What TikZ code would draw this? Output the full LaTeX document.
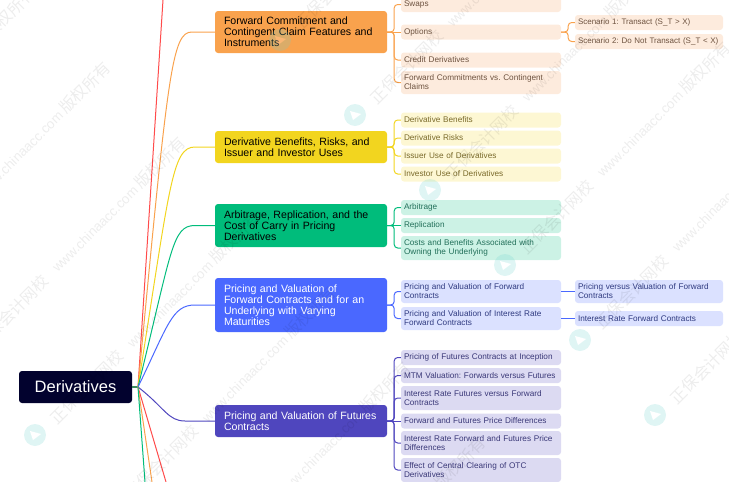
\documentclass[tikz,border=0pt]{standalone}
\usepackage{fontspec}
\setmainfont{Liberation Sans}
\newfontfamily\wmfont{Noto Sans CJK SC}
\usetikzlibrary{positioning}
\definecolor{rootc}{HTML}{02022E}
\definecolor{redc}{HTML}{FF4B4B}
\definecolor{stubc}{HTML}{3F8F5F}
\definecolor{orangec}{HTML}{F9A24D}
\definecolor{yellowc}{HTML}{F2D51F}
\definecolor{greenc}{HTML}{00BC7B}
\definecolor{bluec}{HTML}{4A68FF}
\definecolor{purplec}{HTML}{4F46BE}
\definecolor{orangel}{HTML}{FDEBDD}
\definecolor{yellowl}{HTML}{FDF7D3}
\definecolor{greenl}{HTML}{CCF2E5}
\definecolor{bluel}{HTML}{DBE1FF}
\definecolor{purplel}{HTML}{DCDAF2}
\definecolor{oranget}{HTML}{6E5340}
\definecolor{yellowt}{HTML}{7A6A2A}
\definecolor{greent}{HTML}{22705A}
\definecolor{bluet}{HTML}{2F3A80}
\definecolor{purplet}{HTML}{3A3878}
\definecolor{logoc}{HTML}{6FD3CF}
\frenchspacing

\begin{document}
\begin{tikzpicture}[x=1pt, y=-1pt,
		topicbox/.style={rounded corners=3pt, inner xsep=9pt, inner ysep=0pt, text width=154pt, minimum width=172pt, align=left, font=\fontsize{10.6}{11}\selectfont},
		subbox/.style={rounded corners=3pt, inner xsep=3pt, inner ysep=0pt, text width=154pt, minimum width=160pt, align=left, font=\fontsize{8.2}{9}\selectfont},
		leafbox/.style={subbox, text width=142pt, minimum width=148pt},
		mainline/.style={line width=1pt},
		branch/.style={line width=1pt, rounded corners=3.5pt},
		wmtext/.style={text=black, opacity=0.07, rotate=45, inner sep=0pt}]
	\useasboundingbox (0,0) rectangle (729,482);
	\node[fill=rootc, rounded corners=3pt, minimum width=113pt, minimum height=32pt, inner sep=0pt, text=white, font=\fontsize{16.5}{18}\selectfont] (root) at (75.5,387) {Derivatives};
	\coordinate (hub) at (138,387);
	\coordinate (topend) at (163,0);
	\coordinate (downred) at (166,482);
	\coordinate (downorange) at (152,482);
	\coordinate (downgreen) at (145,482);

	\node[topicbox, fill=orangec, minimum height=42pt] (features) at (301,32) {Forward Commitment and\\Contingent Claim Features and\\Instruments};
	\node[topicbox, fill=yellowc, minimum height=32pt] (uses) at (301,147) {Derivative Benefits, Risks, and\\Issuer and Investor Uses};
	\node[topicbox, fill=greenc, minimum height=43pt] (carry) at (301,225.5) {Arbitrage, Replication, and the\\Cost of Carry in Pricing\\Derivatives};
	\node[topicbox, fill=bluec, text=white, minimum height=54pt] (forwards) at (301,305) {Pricing and Valuation of\\Forward Contracts and for an\\Underlying with Varying\\Maturities};
	\node[topicbox, fill=purplec, text=white, minimum height=32pt] (futures) at (301,421) {Pricing and Valuation of Futures\\Contracts};

	\node[subbox, fill=orangel, text=oranget, minimum height=15pt] (swaps) at (481,4.5) {Swaps};
	\node[subbox, fill=orangel, text=oranget, minimum height=15pt] (options) at (481,32) {Options};
	\node[subbox, fill=orangel, text=oranget, minimum height=15pt] (credit) at (481,60) {Credit Derivatives};
	\node[subbox, fill=orangel, text=oranget, minimum height=23pt] (versus) at (481,82.5) {Forward Commitments vs. Contingent\\Claims};
	\node[leafbox, fill=orangel, text=oranget, minimum height=15pt, font=\fontsize{8}{9}\selectfont] (transact) at (649,22.5) {Scenario 1: Transact (S\_T > X)};
	\node[leafbox, fill=orangel, text=oranget, minimum height=15pt, font=\fontsize{8}{9}\selectfont] (notransact) at (649,41.5) {\mbox{Scenario 2: Do Not Transact (S\_T < X)}};

	\node[subbox, fill=yellowl, text=yellowt, minimum height=15pt] (benefits) at (481,120) {Derivative Benefits};
	\node[subbox, fill=yellowl, text=yellowt, minimum height=15pt] (risks) at (481,138) {Derivative Risks};
	\node[subbox, fill=yellowl, text=yellowt, minimum height=15pt] (issuer) at (481,156) {Issuer Use of Derivatives};
	\node[subbox, fill=yellowl, text=yellowt, minimum height=15pt] (investor) at (481,174) {Investor Use of Derivatives};

	\node[subbox, fill=greenl, text=greent, minimum height=15pt] (arbitrage) at (481,207.5) {Arbitrage};
	\node[subbox, fill=greenl, text=greent, minimum height=15pt] (replication) at (481,225.5) {Replication};
	\node[subbox, fill=greenl, text=greent, minimum height=24pt] (costs) at (481,248) {Costs and Benefits Associated with\\Owning the Underlying};

	\node[subbox, fill=bluel, text=bluet, minimum height=23pt] (forwardval) at (481,291.5) {Pricing and Valuation of Forward\\Contracts};
	\node[subbox, fill=bluel, text=bluet, minimum height=23pt] (rateval) at (481,318.5) {Pricing and Valuation of Interest Rate\\Forward Contracts};
	\node[leafbox, fill=bluel, text=bluet, minimum height=23pt] (priceversus) at (649,291.5) {Pricing versus Valuation of Forward\\Contracts};
	\node[leafbox, fill=bluel, text=bluet, minimum height=15pt] (ratefra) at (649,318.5) {Interest Rate Forward Contracts};

	\node[subbox, fill=purplel, text=purplet, minimum height=15pt] (inception) at (481,357.5) {Pricing of Futures Contracts at Inception};
	\node[subbox, fill=purplel, text=purplet, minimum height=15pt] (mtm) at (481,375.5) {MTM Valuation: Forwards versus Futures};
	\node[subbox, fill=purplel, text=purplet, minimum height=24pt] (ratefutures) at (481,398) {Interest Rate Futures versus Forward\\Contracts};
	\node[subbox, fill=purplel, text=purplet, minimum height=15pt] (pricediff) at (481,421) {Forward and Futures Price Differences};
	\node[subbox, fill=purplel, text=purplet, minimum height=24pt] (ratediff) at (481,443) {Interest Rate Forward and Futures Price\\Differences};
	\node[subbox, fill=purplel, text=purplet, minimum height=24pt] (clearing) at (481,470) {Effect of Central Clearing of OTC\\Derivatives};

	\draw[stubc, line width=1.6pt] (root) -- (hub);
	\draw[mainline, redc] (hub) -- (topend);
	\draw[mainline, orangec] (hub) .. controls (168,70) and (172,32) .. (192,32) -- (features);
	\draw[mainline, yellowc] (hub) .. controls (170,185) and (172,147) .. (195,147) -- (uses);
	\draw[mainline, greenc] (hub) .. controls (172,250) and (172,225.5) .. (195,225.5) -- (carry);
	\draw[mainline, bluec] (hub) .. controls (168,325) and (172,305) .. (195,305) -- (forwards);
	\draw[mainline, purplec] (hub) .. controls (165,408) and (168,421) .. (185,421) -- (futures);
	\draw[mainline, redc] (hub) -- (downred);
	\draw[mainline, orangec] (hub) -- (downorange);
	\draw[mainline, greenc] (hub) -- (downgreen);

	\draw[branch, orangec] (features.east) -- ++(7,0) |- (swaps.west);
	\draw[branch, orangec] (features.east) -- (options.west);
	\draw[branch, orangec] (features.east) -- ++(7,0) |- (credit.west);
	\draw[branch, orangec] (features.east) -- ++(7,0) |- (versus.west);
	\draw[branch, orangec] (options.east) -- ++(7,0) |- (transact.west);
	\draw[branch, orangec] (options.east) -- ++(7,0) |- (notransact.west);

	\draw[branch, yellowc] (uses.east) -- ++(7,0) |- (benefits.west);
	\draw[branch, yellowc] (uses.east) -- ++(7,0) |- (risks.west);
	\draw[branch, yellowc] (uses.east) -- ++(7,0) |- (issuer.west);
	\draw[branch, yellowc] (uses.east) -- ++(7,0) |- (investor.west);

	\draw[branch, greenc] (carry.east) -- ++(7,0) |- (arbitrage.west);
	\draw[branch, greenc] (carry.east) -- (replication.west);
	\draw[branch, greenc] (carry.east) -- ++(7,0) |- (costs.west);

	\draw[branch, bluec] (forwards.east) -- ++(7,0) |- (forwardval.west);
	\draw[branch, bluec] (forwards.east) -- ++(7,0) |- (rateval.west);
	\draw[branch, bluec] (forwardval.east) -- (priceversus.west);
	\draw[branch, bluec] (rateval.east) -- (ratefra.west);

	\draw[branch, purplec] (futures.east) -- ++(7,0) |- (inception.west);
	\draw[branch, purplec] (futures.east) -- ++(7,0) |- (mtm.west);
	\draw[branch, purplec] (futures.east) -- ++(7,0) |- (ratefutures.west);
	\draw[branch, purplec] (futures.east) -- (pricediff.west);
	\draw[branch, purplec] (futures.east) -- ++(7,0) |- (ratediff.west);
	\draw[branch, purplec] (futures.east) -- ++(7,0) |- (clearing.west);

	\foreach \i in {-4,...,4} {
		\foreach \j in {-2,...,1} {
			\begin{scope}[shift={(355+75*\i+320*\j,115+75*\i-320*\j)}]
				\begin{scope}[transparency group, opacity=0.22]
					\fill[logoc] (0,0) circle (11);
					\fill[white] (-5,-4) -- (6,-1) -- (-2,5) -- cycle;
				\end{scope}
				\node[wmtext, font=\wmfont\fontsize{16}{16}\selectfont] (brand\i\j) at (52,-48) {正保会计网校};
				\node[wmtext, font=\fontsize{13.5}{14}\selectfont] (site\i\j) at (135,-131) {www.chinaacc.com};
				\node[wmtext, font=\wmfont\fontsize{16}{16}\selectfont] (rights\i\j) at (200,-197) {版权所有};
			\end{scope}
		}
	}
\end{tikzpicture}
\end{document}
